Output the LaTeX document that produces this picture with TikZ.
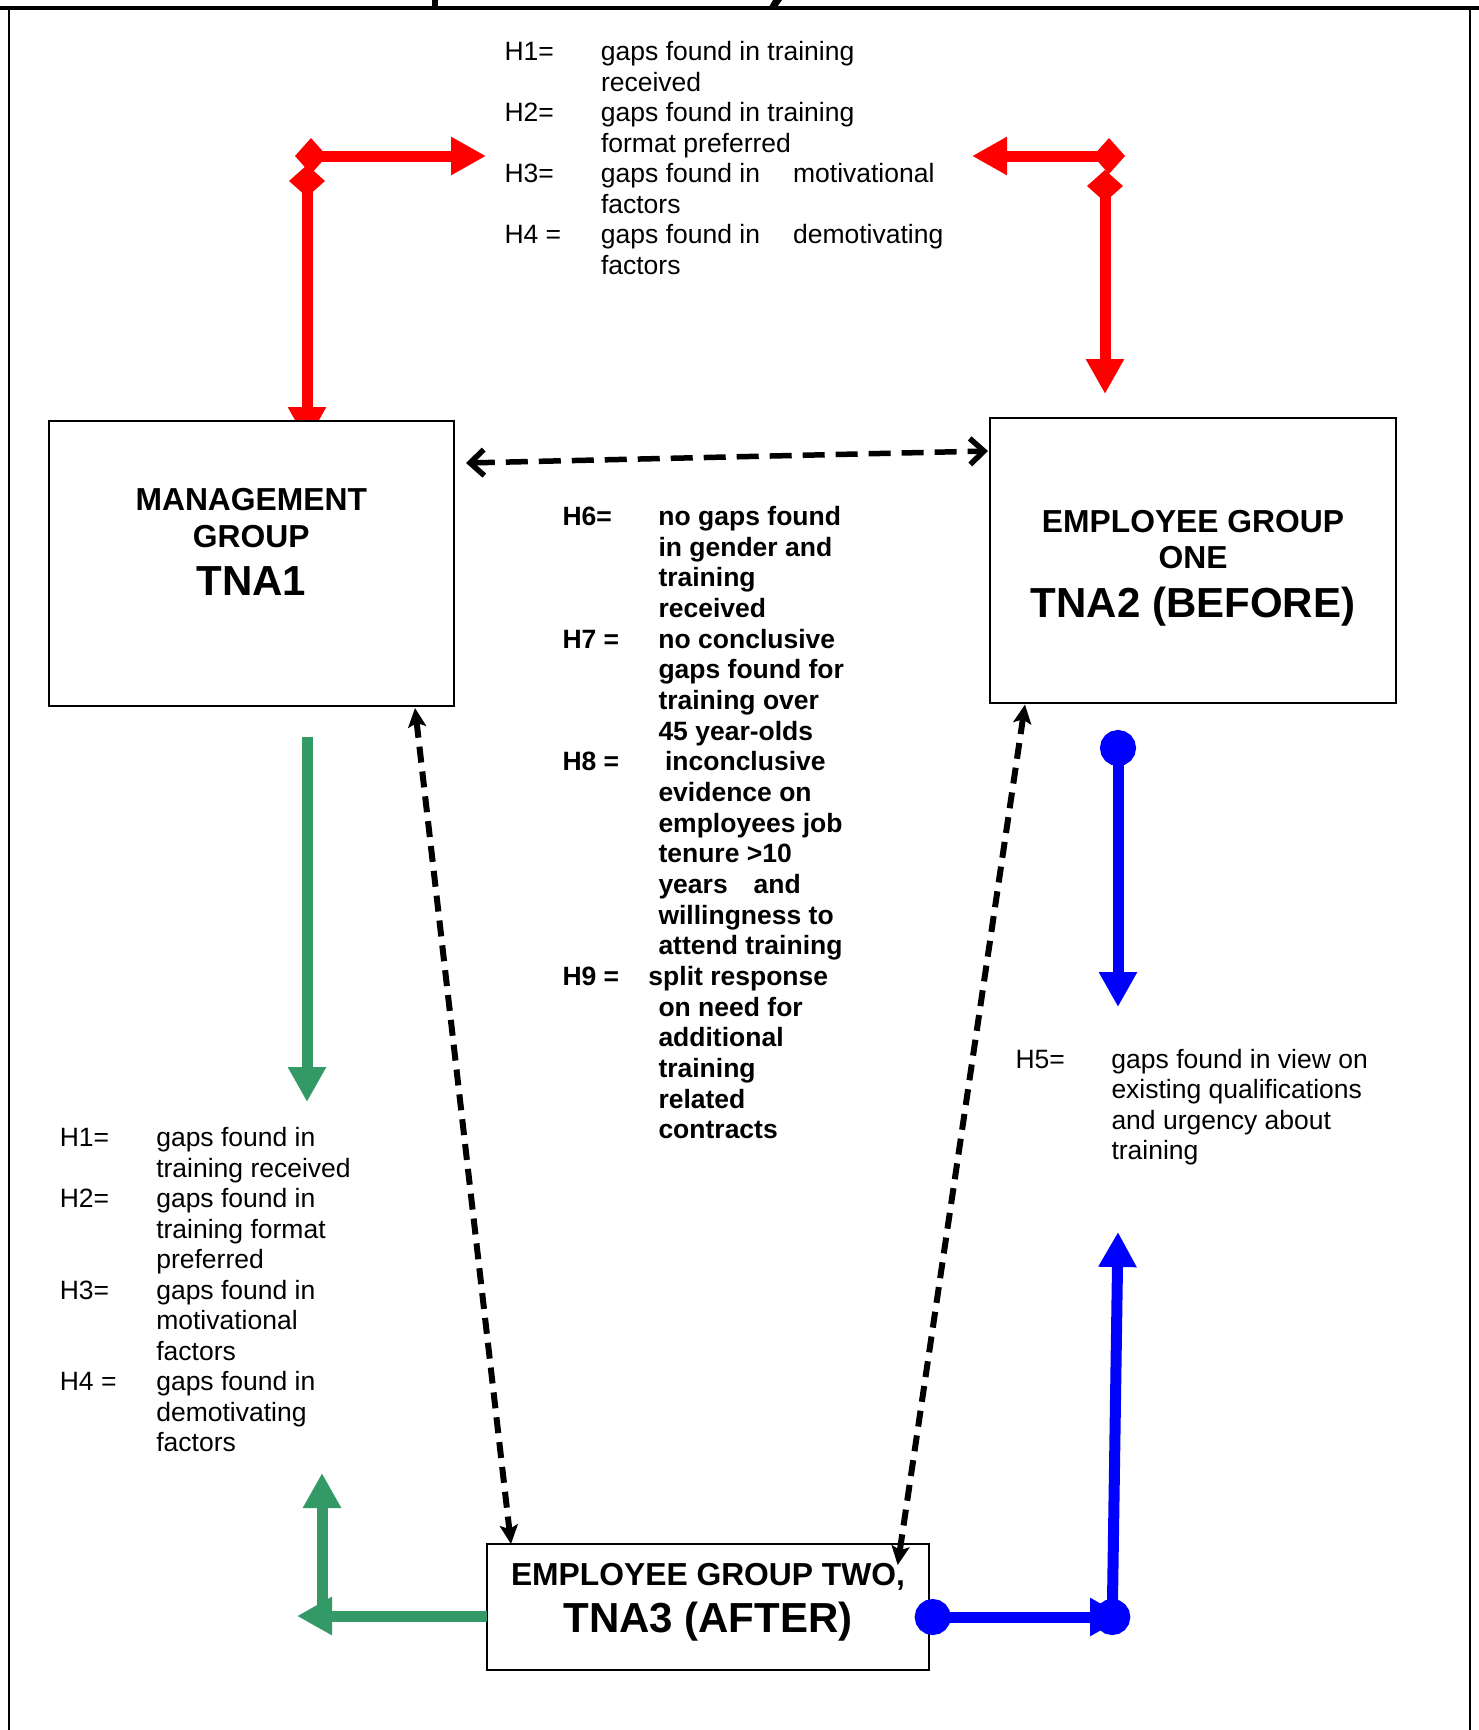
\documentclass[tikz,border=0pt]{standalone}
\usepackage{fontspec}
\setmainfont{Liberation Sans}
\usepackage{xcolor}
\usetikzlibrary{arrows.meta,backgrounds}
\definecolor{seagreen}{RGB}{51,153,102}

\begin{document}
\begin{tikzpicture}[x=1pt,y=-1pt]
  \tikzstyle{every node}=[inner sep=0pt, outer sep=0pt]
  \tikzstyle{box}=[rectangle, draw, line width=2pt, fill=white]
  \tikzstyle{ttl}=[anchor=base, font=\fontsize{31.8pt}{36pt}\selectfont\bfseries]
  \tikzstyle{tna}=[anchor=base, font=\fontsize{42pt}{48pt}\selectfont\bfseries]
  \tikzstyle{hyp}=[anchor=base west, font=\fontsize{26.5pt}{30.5pt}\selectfont]
  \tikzstyle{hypb}=[anchor=base west, font=\fontsize{26.5pt}{30.66pt}\selectfont\bfseries]
  \tikzstyle{redarr}=[red, line width=11pt, {Diamond[length=32pt,width=36pt]}-{Triangle[length=35pt,width=36pt]}]
  \tikzstyle{greenarr}=[seagreen, line width=11pt, -{Triangle[length=35pt,width=36pt]}]
  \tikzstyle{bluearr}=[blue, line width=11pt, {Circle[length=36pt]}-{Triangle[length=35pt,width=36pt]}]
  \tikzstyle{barbdash}=[line width=5.5pt, dash pattern=on 22pt off 11pt, {Straight Barb[length=14pt,width=26pt]}-{Straight Barb[length=14pt,width=26pt]}]
  \tikzstyle{linkdash}=[line width=6pt, dash pattern=on 16pt off 9pt, {Stealth[length=19pt,width=18pt,inset=4pt]}-{Stealth[length=19pt,width=18pt,inset=4pt]}]
  \useasboundingbox (0,0) rectangle (1479,1730);

  % page frame, cut-off heading above it
  \draw[line width=2pt] (9,1730) -- (9,8) (1470,8) -- (1470,1730);
  \draw[line width=3.5pt] (0,8) -- (1479,8);
  \fill (432,0) rectangle (438,7);
  \fill (773,0) -- (782,0) -- (777,7) -- (769,7) -- cycle;

  % the three groups
  \node[box, minimum width=405.5pt, minimum height=285pt] (Mgmt) at (251.25,563.5) {};
  \node[box, minimum width=406pt, minimum height=284.5pt] (EmpOne) at (1193,560.25) {};
  \node[box, minimum width=441.7pt, minimum height=126pt] (EmpTwo) at (707.85,1607) {};

  \node[ttl] (MgmtA) at (251.3,510) {MANAGEMENT};
  \node[ttl] (MgmtB) at (251.3,547.5) {GROUP};
  \node[tna] (MgmtC) at (251.3,595) {TNA1};
  \node[ttl] (OneA) at (1193,532) {EMPLOYEE GROUP};
  \node[ttl] (OneB) at (1193,568.5) {ONE};
  \node[tna] (OneC) at (1193,617) {TNA2 (BEFORE)};
  \node[ttl] (TwoA) at (708,1585) {EMPLOYEE GROUP TWO,};
  \node[tna] (TwoB) at (708,1632) {TNA3 (AFTER)};

  % red: management vs group one
  \coordinate (RLa) at (295,156);
  \coordinate (RLb) at (486,156);
  \coordinate (RLc) at (307,165);
  \coordinate (RLd) at (307,442);
  \coordinate (RRa) at (1125,156);
  \coordinate (RRb) at (972,156);
  \coordinate (RRc) at (1105,170);
  \coordinate (RRd) at (1105,394);
  \begin{scope}[on background layer]
    \draw[redarr] (RLa) -- (RLb);
    \draw[redarr] (RLc) -- (RLd);
    \draw[redarr] (RRa) -- (RRb);
    \draw[redarr] (RRc) -- (RRd);
  \end{scope}

  % green: management vs group two
  \coordinate (GLa) at (307,737);
  \coordinate (GLb) at (307,1102);
  \coordinate (GLc) at (297,1616);
  \coordinate (GLd) at (322,1612);
  \coordinate (GLe) at (322,1473);
  \draw[greenarr] (GLa) -- (GLb);
  \draw[greenarr] ([yshift=-9pt]EmpTwo.west) -- (GLc);
  \draw[greenarr] (GLd) -- (GLe);

  % blue: group one vs group two
  \coordinate (BLa) at (1118,730);
  \coordinate (BLb) at (1118,1007);
  \coordinate (BLc) at (1125,1617);
  \coordinate (BLd) at (1112,1635);
  \coordinate (BLe) at (1118,1232);
  \draw[bluearr] (BLa) -- (BLb);
  \draw[bluearr] ([xshift=-14pt,yshift=-10pt]EmpTwo.east) -- (BLc);
  \draw[bluearr] (BLd) -- (BLe);

  % hypotheses
  \node[hyp] (HypTop) at (504.5,60.5) {\begin{tabular}[t]{@{}p{96.5pt}@{}l@{}}
    H1= & gaps found in training\\
        & received\\
    H2= & gaps found in training\\
        & format preferred\\
    H3= & gaps found in\hspace{33pt}motivational\\
        & factors\\
    H4 = & gaps found in\hspace{33pt}demotivating\\
        & factors
  \end{tabular}};
  \node[hypb] (HypMid) at (562.5,525.5) {\begin{tabular}[t]{@{}p{96pt}@{}l@{}}
    H6= & no gaps found\\
        & in gender and\\
        & training\\
        & received\\
    H7 = & no conclusive\\
        & gaps found for\\
        & training over\\
        & 45 year-olds\\
    H8 = & \hspace{6.6pt}inconclusive\\
        & evidence on\\
        & employees job\\
        & tenure >10\\
        & years\hspace{26pt}and\\
        & willingness to\\
        & attend training\\
    H9 = & \hspace{-10pt}split response\\
        & on need for\\
        & additional\\
        & training\\
        & related\\
        & contracts
  \end{tabular}};
  \node[hyp] (HypLeft) at (59.8,1146.6) {\begin{tabular}[t]{@{}p{96.5pt}@{}l@{}}
    H1= & gaps found in\\
        & training received\\
    H2= & gaps found in\\
        & training format\\
        & preferred\\
    H3= & gaps found in\\
        & motivational\\
        & factors\\
    H4 = & gaps found in\\
        & demotivating\\
        & factors
  \end{tabular}};
  \node[hyp] (HypRight) at (1015.5,1068) {\begin{tabular}[t]{@{}p{96pt}@{}l@{}}
    H5= & gaps found in view on\\
        & existing qualifications\\
        & and urgency about\\
        & training
  \end{tabular}};

  % dashed links between the groups
  \draw[barbdash] ([xshift=12pt,yshift=-42pt]Mgmt.north east) -- ([xshift=-2pt,yshift=-33pt]EmpOne.north west);
  \draw[linkdash] ([xshift=-39pt,yshift=-2pt]Mgmt.south east) -- ([xshift=24pt]EmpTwo.north west);
  \draw[linkdash] ([xshift=35pt,yshift=-2pt]EmpOne.south west) -- ([xshift=-31pt,yshift=-21pt]EmpTwo.north east);
\end{tikzpicture}
\end{document}
